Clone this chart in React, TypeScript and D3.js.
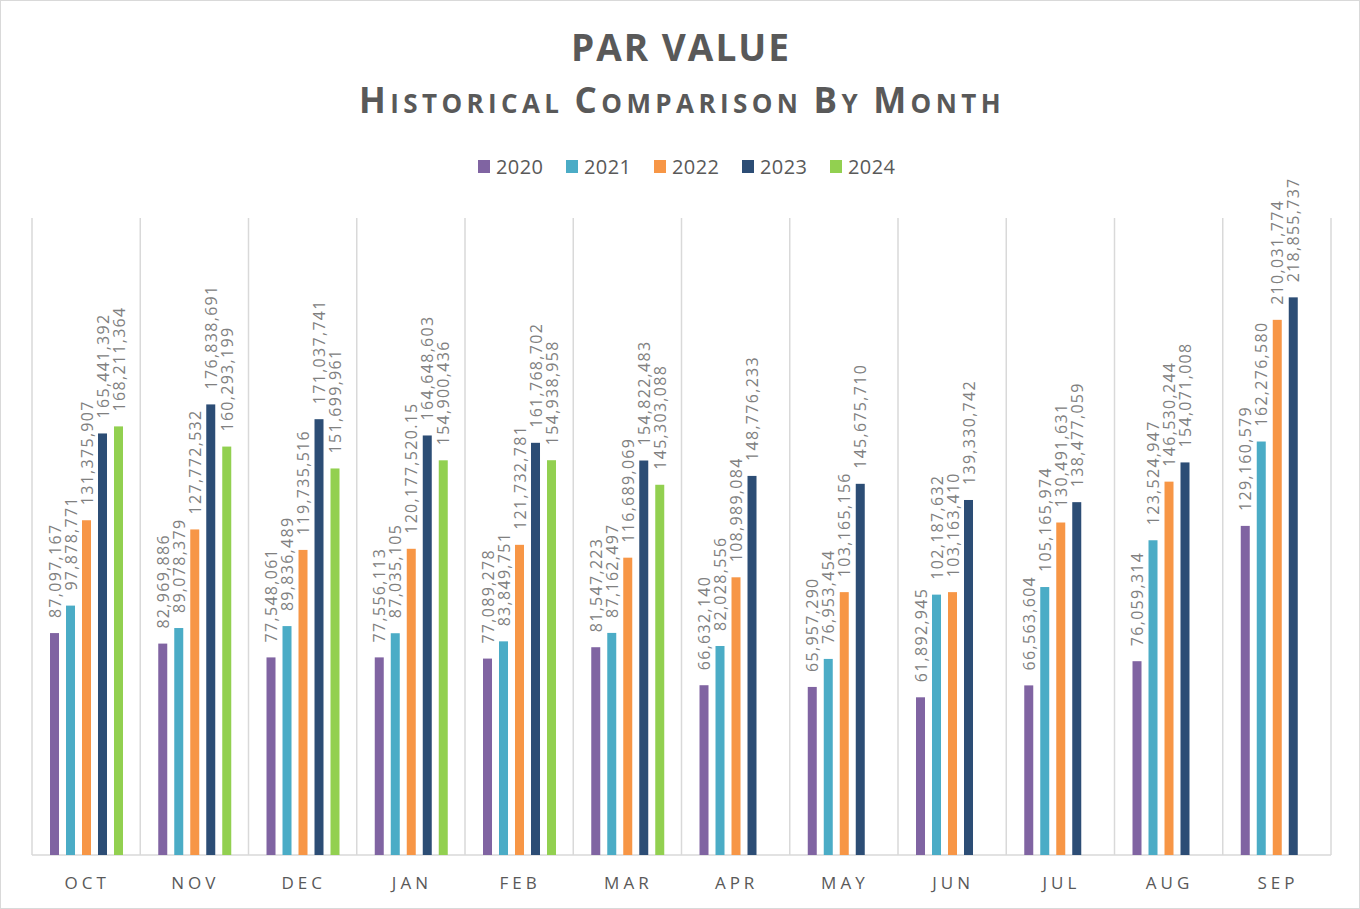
import React from "react";
import * as d3 from "d3";

const months = ["OCT", "NOV", "DEC", "JAN", "FEB", "MAR", "APR", "MAY", "JUN", "JUL", "AUG", "SEP"];
const years = ["2020", "2021", "2022", "2023", "2024"];
const colors = ["#8064a2", "#4bacc6", "#f79646", "#2c4d75", "#92d050"];

const v2020 = [87097167, 82969886, 77548061, 77556113, 77089278, 81547223, 66632140, 65957290, 61892945, 66563604, 76059314, 129160579];
const v2021 = [97878771, 89078379, 89836489, 87035105, 83849751, 87162497, 82028556, 76953454, 102187632, 105165974, 123524947, 162276580];
const v2022 = [131375907, 127772532, 119735516, 120177520.15, 121732781, 116689069, 108989084, 103165156, 103163410, 130491631, 146530244, 210031774];
const v2023 = [165441392, 176838691, 171037741, 164648603, 161768702, 154822483, 148776233, 145675710, 139330742, 138477059, 154071008, 218855737];
const v2024: (number | null)[] = [168211364, 160293199, 151699961, 154900436, 154938958, 145303088, null, null, null, null, null, null];
const series = [v2020, v2021, v2022, v2023, v2024];

const W = 1360, H = 909;
const left = 32, right = 1331, top = 218, bottom = 855;

export default function App() {
  const x0 = d3.scaleBand<string>().domain(months).range([left, right]).padding(0);
  const bw = x0.bandwidth();
  const x1 = d3.scaleBand<string>().domain(years).range([bw * 0.134, bw * 0.873]).paddingInner(0.4375).paddingOuter(0.21875);
  const y = d3.scaleLinear().domain([0, 250000000]).range([bottom, top]);
  const fmt = d3.format(",");
  const gridXs = [...months.map((m) => x0(m)!), right];

  const legendStep = 88;
  const legendStart = 478;

  return (
    <svg width={W} height={H} style={{ position: "absolute", left: 0, top: 0, background: "#fff" }}>
      <rect x={0.5} y={0.5} width={W - 1} height={H - 1} fill="#fff" stroke="#d9d9d9" />
      <text x={681} y={61} textAnchor="middle" fontFamily="'Open Sans'" fontWeight={700} fontSize={37} letterSpacing={2} fill="#595959">
        PAR VALUE
      </text>
      <text x={682} y={113} textAnchor="middle" fontFamily="'Open Sans'" fontWeight={700} fill="#595959" letterSpacing={4.4}>
        <tspan fontSize={35}>H</tspan><tspan fontSize={26}>ISTORICAL </tspan>
        <tspan fontSize={35}>C</tspan><tspan fontSize={26}>OMPARISON </tspan>
        <tspan fontSize={35}>B</tspan><tspan fontSize={26}>Y </tspan>
        <tspan fontSize={35}>M</tspan><tspan fontSize={26}>ONTH</tspan>
      </text>
      {years.map((yr, i) => (
        <g key={yr} transform={`translate(${legendStart + i * legendStep},0)`}>
          <rect x={0} y={160} width={12} height={13} fill={colors[i]} />
          <text x={18} y={174} fontFamily="'Open Sans'" fontSize={20} letterSpacing={0.4} fill="#595959">{yr}</text>
        </g>
      ))}
      {gridXs.map((gx, i) => (
        <line key={i} x1={gx} x2={gx} y1={top} y2={bottom} stroke="#d9d9d9" strokeWidth={1.5} />
      ))}
      <line x1={left} x2={right} y1={bottom} y2={bottom} stroke="#d9d9d9" strokeWidth={1.5} />
      {months.map((m, mi) => (
        <g key={m} transform={`translate(${x0(m)},0)`}>
          {series.map((s, si) => {
            const v = s[mi];
            if (v == null) return null;
            const bx = x1(years[si])!;
            const by = y(v);
            const cx = bx + x1.bandwidth() / 2;
            return (
              <g key={si}>
                <rect x={bx} y={by} width={x1.bandwidth()} height={bottom - by} fill={colors[si]} />
                <text
                  transform={`translate(${cx},${by - 15}) rotate(-90)`}
                  dominantBaseline="central"
                  fontFamily="'Open Sans'"
                  fontSize={16}
                  letterSpacing={1.3}
                  fill="#808080"
                >
                  {fmt(v)}
                </text>
              </g>
            );
          })}
          <text x={bw / 2 + 1} y={889} textAnchor="middle" fontFamily="'Open Sans'" fontSize={17} letterSpacing={4} fill="#595959">
            {m}
          </text>
        </g>
      ))}
    </svg>
  );
}
